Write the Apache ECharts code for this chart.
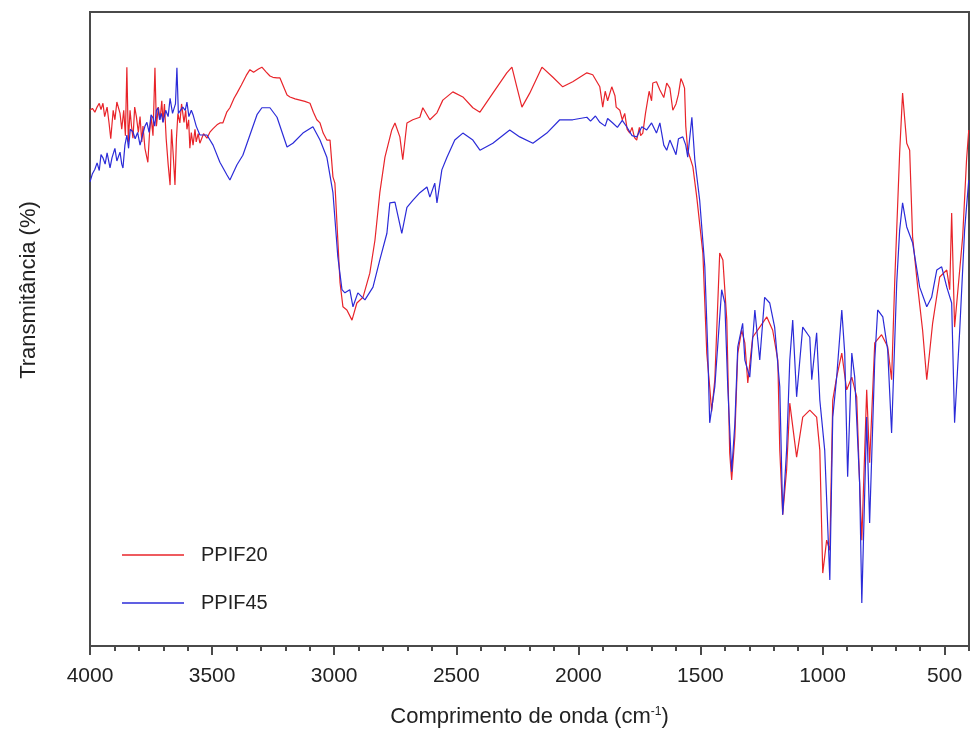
<!DOCTYPE html>
<html>
<head>
<meta charset="utf-8">
<title>FTIR PPIF20 / PPIF45</title>
<script src="https://cdn.jsdelivr.net/npm/echarts@6/dist/echarts.min.js"></script>
<style>
  html, body { margin: 0; padding: 0; background: #ffffff; }
  #chart { width: 972px; height: 745px; }
</style>
</head>
<body>
<div id="chart"></div>
<script>
// valores: [número de onda (cm-1), transmitância (u.a.)]
var ppif20 = [
  [4000, 84.5], [3990, 84.8], [3980, 84.2], [3971, 85.0], [3962, 85.6], [3955, 84.6],
  [3947, 85.6], [3940, 83.5], [3930, 85.0], [3922, 82.5], [3915, 80.0], [3905, 84.5],
  [3898, 83.0], [3890, 85.8], [3877, 84.0], [3870, 81.5], [3862, 84.5], [3855, 80.5],
  [3849, 91.3], [3843, 79.5], [3836, 84.5], [3830, 82.0], [3824, 80.1], [3817, 85.0],
  [3810, 83.5], [3802, 81.0], [3795, 83.5], [3788, 79.5], [3783, 82.0], [3775, 78.5],
  [3763, 76.3], [3756, 81.0], [3750, 83.5], [3742, 80.5], [3734, 91.2], [3728, 82.0],
  [3720, 85.0], [3713, 83.0], [3706, 86.0], [3701, 82.6], [3695, 85.5], [3688, 80.0],
  [3680, 76.0], [3672, 72.7], [3666, 81.5], [3660, 78.0], [3652, 72.7], [3646, 80.0],
  [3640, 84.0], [3632, 82.5], [3625, 85.5], [3615, 82.6], [3608, 84.5], [3603, 81.5],
  [3596, 83.0], [3591, 78.5], [3585, 81.0], [3578, 79.0], [3570, 81.5], [3565, 79.5],
  [3557, 80.8], [3550, 79.3], [3535, 80.8], [3521, 80.1], [3508, 81.1], [3496, 81.6],
  [3480, 82.2], [3468, 82.5], [3456, 82.5], [3440, 84.2], [3427, 84.9], [3410, 86.4],
  [3398, 87.2], [3380, 88.5], [3360, 90.0], [3345, 90.9], [3330, 90.5], [3310, 91.0],
  [3296, 91.3], [3280, 90.6], [3263, 89.9], [3251, 89.7], [3234, 89.6], [3222, 89.6],
  [3205, 88.0], [3193, 86.9], [3181, 86.6], [3160, 86.3], [3140, 86.1], [3120, 85.9],
  [3099, 85.6], [3085, 84.2], [3071, 83.0], [3058, 82.5], [3045, 80.9], [3030, 79.8],
  [3017, 79.8], [3005, 74.0], [2997, 73.0], [2985, 64.0], [2976, 57.3], [2964, 53.5],
  [2948, 53.0], [2927, 51.4], [2907, 54.1], [2882, 55.0], [2854, 58.8], [2833, 64.0],
  [2813, 71.5], [2792, 77.1], [2764, 81.4], [2751, 82.5], [2731, 80.3], [2719, 76.7],
  [2702, 82.5], [2678, 83.0], [2649, 83.4], [2637, 84.9], [2608, 83.0], [2579, 84.1],
  [2555, 86.1], [2514, 87.4], [2473, 86.6], [2432, 84.9], [2403, 84.2], [2350, 87.2],
  [2293, 90.4], [2272, 91.3], [2252, 88.2], [2231, 85.0], [2199, 87.2], [2149, 91.3],
  [2104, 89.7], [2064, 88.2], [2023, 89.0], [1965, 90.4], [1941, 90.1], [1912, 88.2],
  [1900, 85.0], [1890, 87.5], [1880, 86.0], [1863, 88.2], [1850, 86.8], [1845, 85.0],
  [1830, 84.5], [1820, 83.0], [1810, 84.0], [1800, 81.5], [1789, 80.9], [1780, 81.8],
  [1770, 80.2], [1761, 79.8], [1750, 81.8], [1745, 80.5], [1736, 80.9], [1725, 84.0],
  [1710, 87.5], [1700, 86.0], [1695, 88.8], [1680, 89.0], [1666, 87.7], [1650, 86.5],
  [1638, 88.8], [1625, 88.0], [1613, 84.5], [1600, 85.5], [1590, 87.0], [1580, 89.5],
  [1572, 88.8], [1565, 88.0], [1560, 82.0], [1552, 78.2], [1531, 75.6],
  [1515, 70.8], [1490, 62.0], [1474, 46.2], [1462, 40.9], [1454, 37.0], [1441, 42.0],
  [1421, 62.0], [1408, 60.9], [1392, 51.4], [1380, 30.4], [1372, 26.2], [1359, 33.0],
  [1347, 46.2], [1331, 49.8], [1318, 47.8], [1306, 41.5], [1286, 48.7], [1257, 50.3],
  [1228, 51.9], [1204, 49.8], [1183, 45.1], [1175, 30.9], [1163, 20.7], [1147, 27.8],
  [1134, 38.3], [1106, 29.8], [1081, 36.1], [1052, 37.2], [1024, 36.1], [1011, 30.9],
  [999, 11.5], [983, 16.7], [970, 15.1], [958, 38.8], [942, 42.4], [921, 46.2],
  [901, 40.4], [880, 42.4], [860, 39.3], [848, 25.7], [839, 16.7], [819, 40.4],
  [807, 28.9], [786, 47.8], [758, 49.1], [733, 47.2], [717, 42.0], [704, 57.7],
  [684, 77.8], [672, 87.2], [663, 83.0], [655, 79.3], [643, 78.2], [631, 64.5],
  [610, 56.6], [590, 49.8], [573, 42.0], [549, 50.9], [520, 58.2], [491, 59.3],
  [479, 56.2], [471, 68.3], [459, 50.3], [426, 64.5], [410, 76.7], [401, 81.4]
];

var ppif45 = [
  [4000, 73.2], [3990, 74.5], [3980, 75.2], [3971, 76.2], [3962, 75.0], [3955, 77.5],
  [3947, 77.0], [3938, 76.0], [3930, 77.8], [3918, 75.4], [3910, 77.0], [3898, 78.5],
  [3890, 76.5], [3877, 77.9], [3870, 76.0], [3865, 75.4], [3857, 79.0], [3849, 80.6],
  [3842, 78.5], [3835, 81.5], [3824, 81.1], [3815, 80.0], [3805, 81.0], [3795, 79.0],
  [3785, 80.5], [3775, 82.0], [3767, 82.6], [3758, 81.0], [3750, 83.8], [3742, 83.3],
  [3735, 82.0], [3728, 84.5], [3722, 84.9], [3715, 83.0], [3708, 84.0], [3701, 82.6],
  [3690, 84.5], [3680, 83.5], [3672, 86.4], [3662, 84.0], [3650, 85.5], [3644, 91.2],
  [3638, 84.0], [3632, 83.8], [3620, 85.0], [3610, 84.5], [3603, 85.8], [3595, 83.5],
  [3585, 84.5], [3578, 83.8], [3565, 82.0], [3550, 80.6], [3521, 80.6], [3496, 79.0],
  [3468, 76.3], [3439, 74.3], [3427, 73.5], [3398, 75.9], [3374, 77.4], [3345, 80.6],
  [3316, 83.8], [3296, 84.9], [3263, 84.9], [3234, 83.4], [3193, 78.7], [3169, 79.3],
  [3128, 80.9], [3087, 81.9], [3058, 79.8], [3030, 77.1], [3005, 71.5], [2985, 61.4],
  [2968, 56.2], [2956, 55.7], [2936, 56.2], [2923, 53.5], [2903, 55.7], [2874, 54.6],
  [2841, 56.6], [2813, 60.9], [2784, 65.1], [2772, 69.9], [2751, 70.0], [2723, 65.1],
  [2702, 69.2], [2678, 70.3], [2649, 71.5], [2620, 72.4], [2608, 70.8], [2588, 73.0],
  [2579, 69.9], [2559, 75.1], [2538, 77.1], [2506, 79.8], [2473, 80.9], [2432, 79.8],
  [2403, 78.2], [2350, 79.3], [2281, 81.4], [2240, 80.3], [2186, 79.3], [2129, 80.9],
  [2076, 83.0], [2023, 83.0], [1965, 83.4], [1950, 82.8], [1930, 83.6], [1912, 82.6],
  [1890, 82.0], [1880, 83.2], [1859, 82.5], [1840, 81.8], [1820, 82.9], [1802, 81.9],
  [1780, 80.5], [1761, 80.3], [1740, 81.9], [1720, 81.4], [1700, 82.5], [1680, 80.9],
  [1666, 82.5], [1650, 79.0], [1638, 78.2], [1625, 79.8], [1613, 78.7], [1600, 77.5],
  [1590, 80.0], [1572, 80.3], [1560, 79.0], [1552, 77.1], [1535, 83.4],
  [1523, 76.7], [1503, 70.3], [1482, 59.8], [1470, 46.7], [1462, 35.2], [1441, 40.9],
  [1413, 56.2], [1400, 54.1], [1388, 40.9], [1372, 27.5], [1359, 35.0], [1347, 47.2],
  [1327, 50.9], [1318, 45.1], [1298, 42.4], [1277, 53.0], [1257, 45.1], [1237, 55.0],
  [1216, 54.1], [1196, 50.3], [1175, 40.9], [1163, 20.7], [1147, 30.9], [1134, 45.1],
  [1122, 51.4], [1106, 39.3], [1081, 50.3], [1052, 48.7], [1044, 42.0], [1024, 49.4],
  [1011, 38.8], [991, 30.9], [970, 10.4], [958, 36.1], [942, 42.4], [921, 53.0],
  [909, 46.2], [897, 26.7], [880, 46.2], [868, 42.4], [848, 25.7], [839, 6.8],
  [819, 36.1], [807, 19.4], [786, 45.1], [774, 53.0], [753, 51.9], [733, 46.7],
  [717, 33.6], [696, 57.3], [684, 65.6], [672, 69.9], [655, 66.1], [631, 63.6],
  [602, 56.6], [573, 53.5], [553, 55.0], [532, 59.3], [512, 59.8], [491, 56.6],
  [471, 54.1], [459, 35.2], [438, 49.8], [418, 65.6], [401, 73.5]
];

var seriesNames = ['PPIF20', 'PPIF45'];
var majorTicks = [4000, 3500, 3000, 2500, 2000, 1500, 1000, 500];

var chart = echarts.init(document.getElementById('chart'));
chart.setOption({
  backgroundColor: '#ffffff',
  animation: false,
  textStyle: { fontFamily: 'Liberation Sans, Arial, sans-serif' },
  grid: {
    left: 90, right: 3, top: 12, bottom: 99,
    show: true,
    borderColor: '#4a4a4a',
    borderWidth: 2
  },
  legend: {
    orient: 'vertical',
    left: 117,
    top: 540,
    itemGap: 28,
    itemWidth: 62,
    itemHeight: 14,
    icon: 'path://M0,6 L62,6 L62,7.4 L0,7.4 Z',
    data: seriesNames,
    textStyle: { fontSize: 20, color: '#222', padding: [0, 0, 0, 12] }
  },
  xAxis: [
    {
      type: 'value',
      inverse: true,
      min: 400,
      max: 4000,
      interval: 100,
      name: 'Comprimento de onda (cm{sup|-1})',
      nameLocation: 'middle',
      nameGap: 60,
      nameTextStyle: {
        fontSize: 22,
        color: '#222',
        rich: { sup: { fontSize: 12, verticalAlign: 'top', padding: [0, 0, 10, 0], color: '#222' } }
      },
      splitLine: { show: false },
      axisLine: { lineStyle: { color: '#4a4a4a', width: 2 } },
      axisTick: { inside: false, length: 5, lineStyle: { color: '#4a4a4a', width: 2 } },
      axisLabel: {
        margin: 20,
        fontSize: 21,
        color: '#222',
        formatter: function (v) { return v % 500 === 0 ? String(v) : ''; }
      }
    },
    {
      type: 'value',
      inverse: true,
      min: 400,
      max: 4000,
      position: 'bottom',
      axisLine: { show: false },
      splitLine: { show: false },
      axisLabel: { show: false },
      axisTick: {
        inside: false,
        length: 9,
        customValues: majorTicks,
        lineStyle: { color: '#4a4a4a', width: 2 }
      }
    }
  ],
  yAxis: {
    type: 'value',
    min: 0,
    max: 100,
    name: 'Transmitância (%)',
    nameLocation: 'middle',
    nameGap: 50,
    nameTextStyle: { fontSize: 22, color: '#222', padding: [0, 0, 0, 78] },
    axisLine: { lineStyle: { color: '#4a4a4a', width: 2 } },
    axisTick: { show: false },
    axisLabel: { show: false },
    splitLine: { show: false }
  },
  series: [
    {
      name: seriesNames[0],
      type: 'line',
      data: ppif20,
      showSymbol: false,
      symbol: 'none',
      color: '#e8242a',
      lineStyle: { width: 1.2, color: '#e8242a' }
    },
    {
      name: seriesNames[1],
      type: 'line',
      data: ppif45,
      showSymbol: false,
      symbol: 'none',
      color: '#2b2bd8',
      lineStyle: { width: 1.2, color: '#2b2bd8' }
    }
  ]
});
</script>
</body>
</html>
